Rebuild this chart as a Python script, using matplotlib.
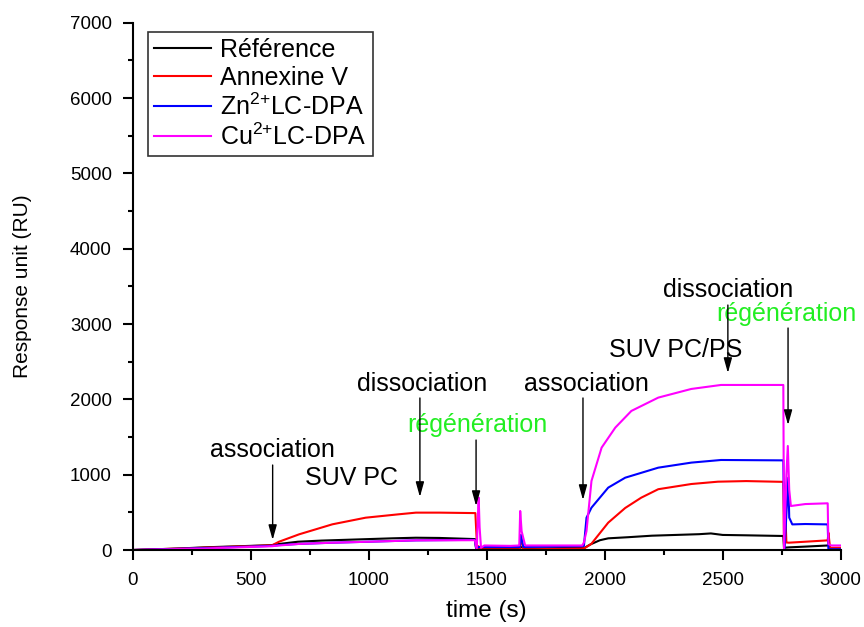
import matplotlib
matplotlib.use('Agg')
import matplotlib.pyplot as plt
from matplotlib.ticker import MultipleLocator

plt.rcParams['font.family'] = ['Liberation Sans', 'DejaVu Sans']
plt.rcParams['mathtext.default'] = 'regular'

t_ref = [0, 100, 200, 300, 400, 500, 590, 620, 700, 800, 900, 1000, 1100, 1200, 1300, 1450,
         1455, 1470, 1500, 1600, 1640, 1645, 1660, 1700, 1800, 1900, 1915, 1940, 1980, 2015,
         2100, 2200, 2300, 2400, 2450, 2500, 2600, 2757, 2760, 2780, 2850, 2945, 2950, 2960, 3000]
v_ref = [0, 10, 20, 35, 45, 55, 65, 80, 110, 125, 135, 145, 155, 163, 160, 145,
         20, 30, 20, 20, 20, 40, 20, 20, 25, 30, 30, 75, 130, 155,
         170, 190, 200, 210, 220, 200, 195, 186, 30, 35, 45, 60, 62, 10, 10]

t_annex = [0, 300, 590, 620, 705, 846, 987, 1127, 1200, 1300, 1452, 1455, 1460, 1465, 1475,
           1600, 1640, 1645, 1655, 1700, 1900, 1915, 1943, 2015, 2087, 2155, 2227, 2367, 2480,
           2600, 2750, 2757, 2760, 2765, 2770, 2780, 2850, 2945, 2948, 2955, 3000]
v_annex = [0, 30, 62, 110, 208, 341, 429, 474, 496, 496, 490, 300, 0, 50, 10,
           10, 10, 180, 10, 10, 20, 25, 80, 363, 558, 695, 807, 876, 907,
           915, 905, 905, 0, 520, 100, 97, 110, 128, 230, 30, 30]

t_zn = [0, 300, 590, 620, 700, 846, 1000, 1200, 1450, 1455, 1470, 1600, 1640, 1645, 1655,
        1900, 1912, 1923, 1944, 2015, 2087, 2227, 2367, 2493, 2750, 2757, 2762, 2778, 2782,
        2795, 2850, 2945, 2948, 2960, 3000]
v_zn = [0, 25, 55, 65, 80, 97, 110, 128, 135, 30, 40, 40, 40, 200, 40,
        50, 55, 429, 562, 828, 960, 1093, 1160, 1195, 1190, 1190, 0, 960, 430,
        340, 345, 340, 10, 10, 10]

t_cu = [0, 300, 590, 620, 700, 846, 1000, 1200, 1450, 1458, 1462, 1466, 1470, 1476, 1490,
        1600, 1638, 1642, 1648, 1663, 1700, 1800, 1905, 1912, 1923, 1944, 1987, 2045, 2113,
        2227, 2367, 2493, 2750, 2757, 2760, 2770, 2776, 2782, 2789, 2850, 2945, 2948, 2960, 3000]
v_cu = [0, 20, 50, 60, 80, 97, 110, 128, 130, 0, 400, 695, 300, 30, 60,
        55, 60, 518, 250, 60, 60, 60, 60, 100, 252, 916, 1359, 1625, 1846,
        2023, 2138, 2191, 2191, 2191, 0, 1000, 1381, 800, 584, 610, 620, 80, 60, 60]

labels = ['Référence', 'Annexine V', 'Zn$^{2{+}}$LC-DPA', 'Cu$^{2{+}}$LC-DPA']
colors = ['black', '#ff0000', '#0000ff', '#ff00ff']

# annotations : (texte, x, y, couleur)
notes = [
    ('association', 590, 1327, 'black'),
    ('SUV PC', 929, 956, 'black'),
    ('dissociation', 1226, 2204, 'black'),
    ('régénération', 1459, 1659, '#22ee22'),
    ('association', 1921, 2204, 'black'),
    ('SUV PC/PS', 2302, 2655, 'black'),
    ('dissociation', 2522, 3451, 'black'),
    ('régénération', 2772, 3133, '#22ee22'),
]
# flèches : (x, y départ, y pointe)
arrows = [(593, 1128, 133), (1217, 2018, 704), (1455, 1460, 584),
          (1908, 2018, 664), (2522, 3252, 2350), (2777, 2947, 1659)]

fig = plt.figure(figsize=(8.64, 6.27), dpi=100)
ax = fig.add_axes([0.1536, 0.1228, 0.8194, 0.8410])

series = [(t_ref, v_ref), (t_annex, v_annex), (t_zn, v_zn), (t_cu, v_cu)]
for (t, v), lab, c in zip(series, labels, colors):
    ax.plot(t, v, color=c, lw=1.5, label=lab)

for txt, x, y, c in notes:
    ax.text(x, y, txt, color=c, fontsize=18, ha='center', va='center')
for x, y0, y1 in arrows:
    ax.annotate('', xy=(x, y1), xytext=(x, y0),
                arrowprops=dict(arrowstyle='-|>,head_length=0.9,head_width=0.25',
                                color='black', lw=1, shrinkA=0, shrinkB=0))

ax.set_xlim(0, 3000)
ax.set_ylim(0, 7000)
ax.xaxis.set_major_locator(MultipleLocator(500))
ax.xaxis.set_minor_locator(MultipleLocator(250))
ax.yaxis.set_major_locator(MultipleLocator(1000))
ax.yaxis.set_minor_locator(MultipleLocator(500))
ax.tick_params(which='major', length=7, width=1.5, labelsize=13.5, direction='out')
ax.tick_params(which='minor', length=3.5, width=1.5, direction='out')
ax.tick_params(axis='y', which='major', pad=8)
ax.tick_params(axis='x', which='major', pad=8.5)
ax.spines['top'].set_visible(False)
ax.spines['right'].set_visible(False)
ax.spines['left'].set_linewidth(1.5)
ax.spines['bottom'].set_linewidth(1.5)

ax.set_xlabel('time (s)', fontsize=17.5, labelpad=8)
ax.set_ylabel('Response unit (RU)', fontsize=15, labelpad=27)

leg = ax.legend(loc='upper left', bbox_to_anchor=(0.021, 0.983), borderaxespad=0,
                fontsize=18, frameon=True, fancybox=False, edgecolor='black',
                handlelength=2.3, labelspacing=0.15, borderpad=0.25, handletextpad=0.35)
leg.get_frame().set_linewidth(1.2)

fig.savefig('out.png', dpi=100)
